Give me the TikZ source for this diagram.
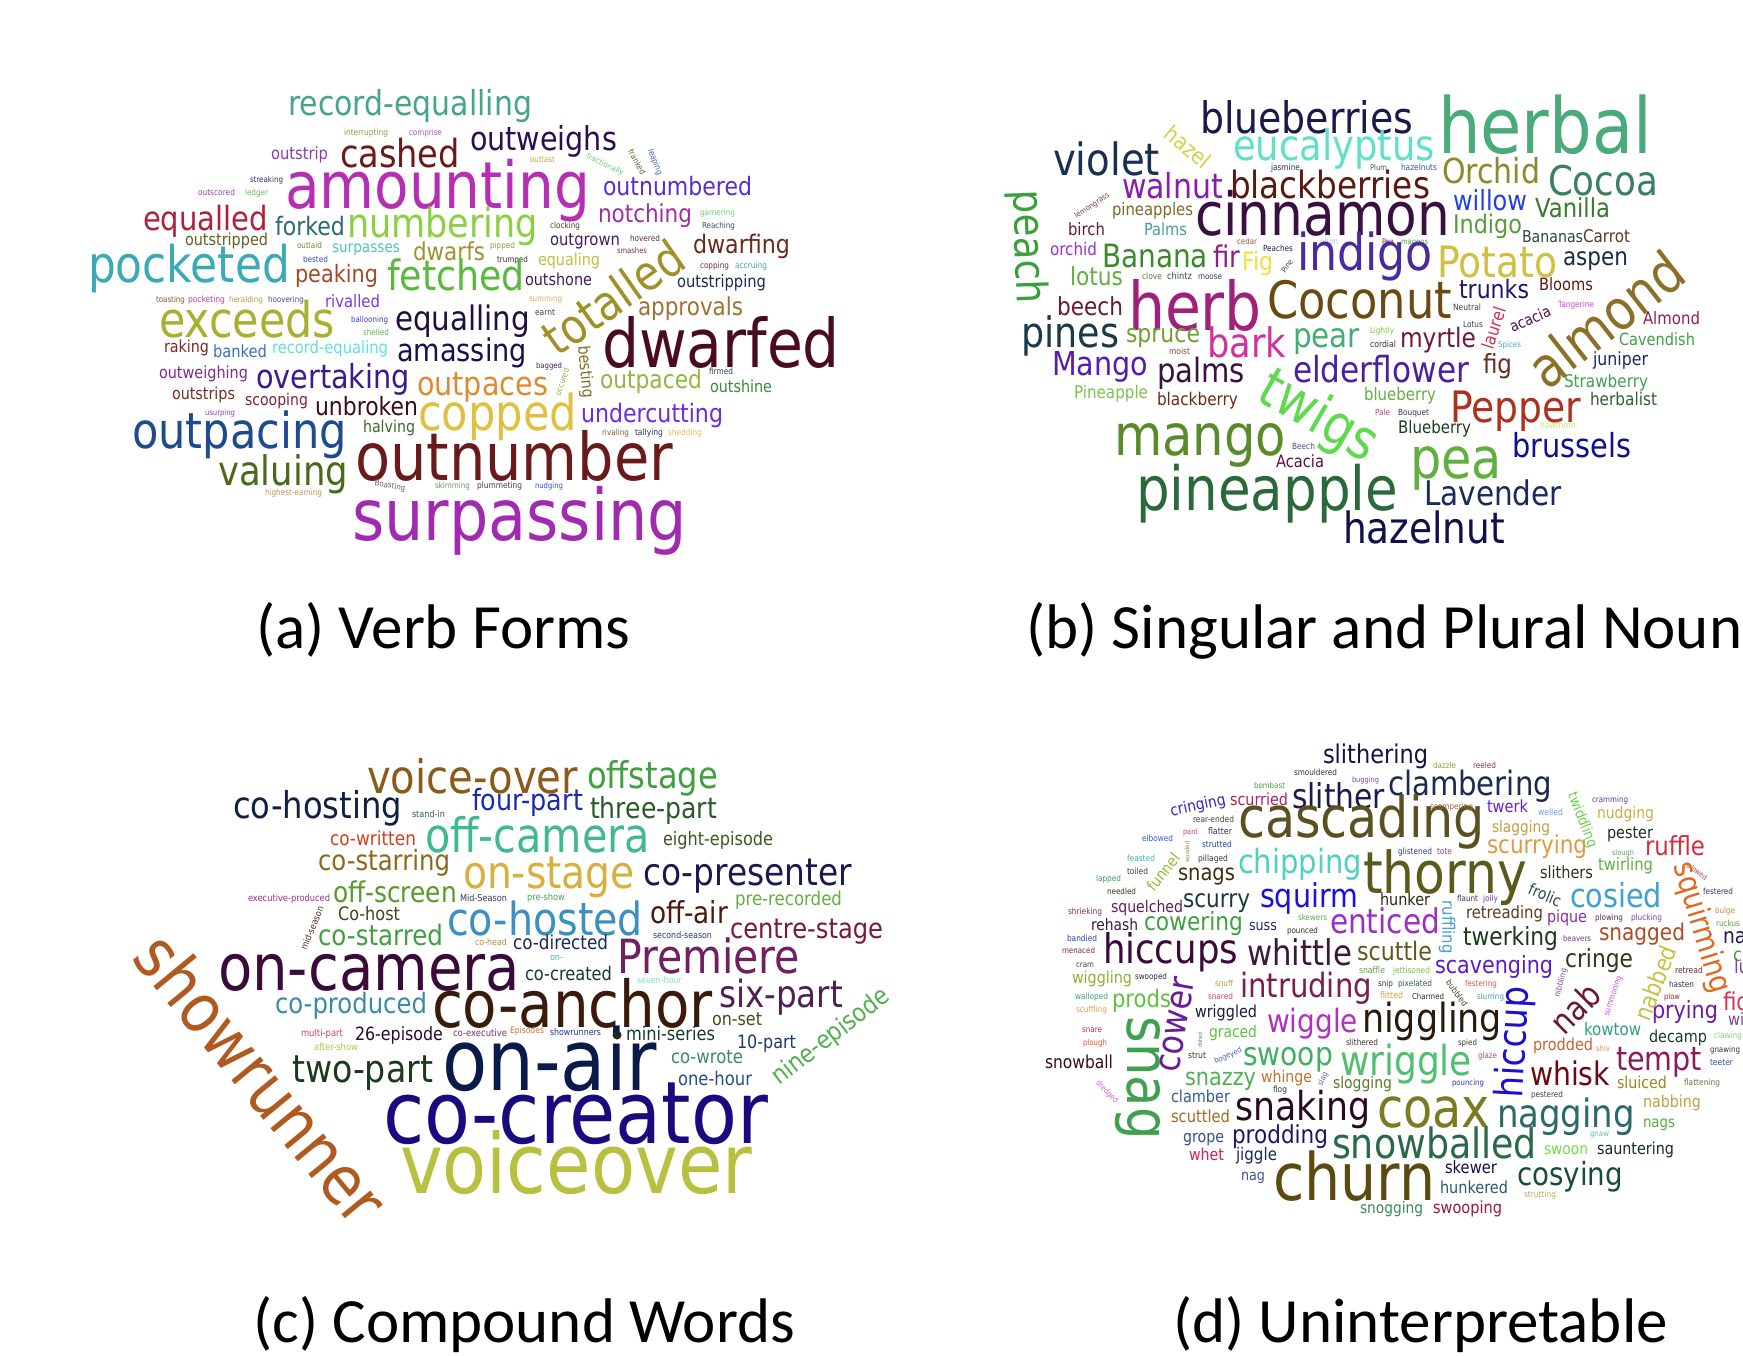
\documentclass[tikz,border=0pt]{standalone}
\usepackage{fontspec}
\usepackage{graphicx}
\newfontfamily\wcfam[FakeStretch=0.87]{DejaVu Sans}
\newfontfamily\capfam{Carlito}
\newcommand\wcf{\fontsize{20}{24}\selectfont\wcfam}
\newlength\wcu \setlength\wcu{0.5pt}
\newcounter{wcn}
\tikzset{wordbox/.style={inner sep=0pt,outer sep=0pt,anchor=base west},
  captionbox/.style={inner sep=0pt,anchor=base west,font=\fontsize{31.5}{36}\selectfont\capfam}}
% horizontal word: xl xr baseline hex text
\newcommand\wdh[5]{\definecolor{wcc}{HTML}{#4}\stepcounter{wcn}%
  \node[wordbox,text=wcc] (w\arabic{wcn}) at (#1,-#3) {\resizebox{\dimexpr#2\wcu-#1\wcu\relax}{!}{\wcf #5}};}
% rotated word: cx cy angle length hex text
\newcommand\wdr[6]{\definecolor{wcc}{HTML}{#5}\stepcounter{wcn}%
  \node[wordbox,anchor=center,rotate=#3,text=wcc] (w\arabic{wcn}) at (#1,-#2) {\resizebox{#4\wcu}{!}{\wcf #6}};}
\begin{document}
\begin{tikzpicture}[x=0.5pt,y=0.5pt]
\path[use as bounding box,fill=white] (0,0) rectangle (1743,-1355);
% ---------------- (a) ----------------
\wdh{288}{532}{115}{44A58A}{record-equalling}
\wdh{344}{388}{135}{8AA04A}{interrupting}
\wdh{409}{442}{135}{B050C0}{comprise}
\wdh{271}{328}{159}{8A3AB9}{outstrip}
\wdh{340}{460}{167}{6A1A1A}{cashed}
\wdh{470}{617}{150}{2A0F50}{outweighs}
\wdh{530}{555}{162}{B0B040}{outlast}
\wdh{250}{283}{182}{303060}{streaking}
\wdh{198}{235}{195}{A040C0}{outscored}
\wdh{245}{268}{195}{60C060}{ledger}
\wdh{285}{590}{208}{B52FB5}{amounting}
\wdh{603}{752}{195}{5A2DD0}{outnumbered}
\wdh{143}{268}{230}{B0203A}{equalled}
\wdh{275}{345}{235}{2A6A70}{forked}
\wdh{347}{538}{237}{8AD040}{numbering}
\wdh{598}{692}{222}{A02EA0}{notching}
\wdh{700}{735}{215}{70D070}{garnering}
\wdh{702}{735}{228}{305060}{Reaching}
\wdh{550}{580}{228}{404020}{clocking}
\wdh{185}{268}{245}{606020}{outstripped}
\wdh{297}{322}{248}{6A8A30}{outlaid}
\wdh{332}{400}{252}{50C8B0}{surpasses}
\wdh{413}{485}{260}{A09030}{dwarfs}
\wdh{490}{515}{248}{80A040}{pipped}
\wdh{550}{620}{245}{402060}{outgrown}
\wdh{630}{660}{241}{603030}{hovered}
\wdh{617}{647}{253}{803040}{smashes}
\wdh{693}{790}{253}{6A2A1A}{dwarfing}
\wdh{303}{328}{262}{3050C0}{bested}
\wdh{497}{528}{262}{303030}{trumped}
\wdh{538}{600}{265}{C0C040}{equaling}
\wdh{700}{729}{268}{703040}{copping}
\wdh{735}{767}{268}{50A0A0}{accruing}
\wdh{88}{290}{282}{3AABB5}{pocketed}
\wdh{295}{378}{282}{A04A2A}{peaking}
\wdh{387}{525}{290}{5AB83A}{fetched}
\wdh{525}{592}{285}{401A60}{outshone}
\wdh{677}{766}{287}{1A2A50}{outstripping}
\wdh{156}{185}{302}{806020}{toasting}
\wdh{188}{225}{302}{C04090}{pocketing}
\wdh{229}{263}{302}{B0A050}{heralding}
\wdh{268}{304}{302}{6040A0}{hoovering}
\wdh{325}{380}{307}{7A3AE0}{rivalled}
\wdh{529}{562}{301}{D0B060}{summing}
\wdh{638}{743}{315}{A07030}{approvals}
\wdh{535}{555}{315}{404040}{earnt}
\wdh{159}{335}{337}{A8B030}{exceeds}
\wdh{351}{388}{322}{4040C0}{ballooning}
\wdh{395}{530}{330}{201040}{equalling}
\wdh{363}{389}{335}{60B060}{shelled}
\wdh{602}{840}{367}{4A0A20}{dwarfed}
\wdh{164}{209}{352}{7A2A2A}{raking}
\wdh{213}{267}{357}{3A70C0}{banked}
\wdh{272}{388}{353}{60E0E0}{record-equaling}
\wdh{397}{527}{361}{1A1050}{amassing}
\wdh{536}{562}{368}{402060}{bagged}
\wdh{709}{733}{374}{304050}{firmed}
\wdh{600}{702}{388}{90B840}{outpaced}
\wdh{710}{772}{392}{3A8A3A}{outshine}
\wdh{159}{248}{378}{802A90}{outweighing}
\wdh{256}{410}{388}{3A1A90}{overtaking}
\wdh{417}{548}{395}{E08A30}{outpaces}
\wdh{172}{235}{399}{7A2A2A}{outstrips}
\wdh{245}{308}{405}{802040}{scooping}
\wdh{315}{418}{415}{3A0A1A}{unbroken}
\wdh{205}{235}{415}{8040A0}{usurping}
\wdh{418}{577}{430}{E0C040}{copped}
\wdh{581}{723}{422}{6A2AE8}{undercutting}
\wdh{363}{415}{432}{3A6A2A}{halving}
\wdh{602}{629}{435}{806030}{rivaling}
\wdh{635}{663}{435}{303050}{tallying}
\wdh{668}{702}{435}{E0C050}{shedding}
\wdh{132}{347}{448}{1E4A90}{outpacing}
\wdh{355}{673}{480}{6A1A1A}{outnumber}
\wdh{218}{348}{485}{4A6A1A}{valuing}
\wdh{435}{470}{488}{60A060}{skimming}
\wdh{477}{522}{488}{404050}{plummeting}
\wdh{535}{563}{488}{3050D0}{nudging}
\wdh{265}{322}{495}{C09050}{highest-earning}
\wdh{352}{687}{540}{A02AB0}{surpassing}
\wdr{605}{165}{-25}{40}{70D070}{fractionally}
\wdr{637}{162}{-60}{27}{606030}{franked}
\wdr{655}{162}{-70}{27}{4060A0}{leaping}
\wdr{613}{297}{35}{160}{A09028}{totalled}
\wdr{585}{372}{-85}{53}{807020}{besting}
\wdr{562}{382}{71}{28}{B0A040}{occured}
\wdr{390}{486}{-10}{31}{606070}{Boasting}
% ---------------- (b) ----------------
\wdh{1200}{1413}{133}{1A1A4A}{blueberries}
\wdh{1438}{1652}{153}{4AAA7A}{herbal}
\wdh{1233}{1435}{160}{60E0C8}{eucalyptus}
\wdh{1053}{1160}{175}{1A3050}{violet}
\wdh{1271}{1300}{170}{303050}{jasmine}
\wdh{1370}{1387}{170}{306040}{Plum}
\wdh{1401}{1437}{170}{3050A0}{hazelnuts}
\wdh{1442}{1540}{183}{8A8A2A}{Orchid}
\wdh{1548}{1658}{195}{3A8060}{Cocoa}
\wdh{1122}{1223}{198}{8A1AB0}{walnut}
\wdh{1230}{1430}{198}{5A1A10}{blackberries}
\wdh{1453}{1527}{210}{2040E0}{willow}
\wdh{1535}{1610}{217}{3A7A2A}{Vanilla}
\wdh{1112}{1193}{215}{7A6A2A}{pineapples}
\wdh{1195}{1450}{235}{3A1040}{cinnamon}
\wdh{1068}{1105}{235}{602030}{birch}
\wdh{1144}{1187}{235}{40A0A0}{Palms}
\wdh{1453}{1522}{233}{5A9A3A}{Indigo}
\wdh{1522}{1583}{242}{304040}{Bananas}
\wdh{1583}{1630}{242}{5A3A20}{Carrot}
\wdh{1382}{1394}{244}{703050}{Pea}
\wdh{1401}{1428}{244}{40A060}{mangos}
\wdh{1237}{1257}{244}{A05040}{cedar}
\wdh{1320}{1338}{244}{A0C0F0}{plum}
\wdh{1050}{1097}{255}{A030C0}{orchid}
\wdh{1102}{1208}{267}{3A8A2A}{Banana}
\wdh{1213}{1240}{267}{902080}{fir}
\wdh{1242}{1273}{270}{F0E040}{Fig}
\wdh{1263}{1293}{251}{202050}{Peaches}
\wdh{1297}{1433}{270}{4A2AA0}{indigo}
\wdh{1437}{1557}{277}{D0C040}{Potato}
\wdh{1563}{1628}{265}{1A2A40}{aspen}
\wdh{1070}{1123}{285}{60B040}{lotus}
\wdh{1142}{1162}{279}{607040}{clove}
\wdh{1167}{1192}{279}{305040}{chintz}
\wdh{1198}{1222}{279}{304060}{moose}
\wdh{1128}{1262}{330}{A0207A}{herb}
\wdh{1267}{1452}{318}{6A4A10}{Coconut}
\wdh{1057}{1123}{315}{6A1A2A}{beech}
\wdh{1459}{1529}{298}{1A1A6A}{trunks}
\wdh{1539}{1593}{290}{5A1A10}{Blooms}
\wdh{1453}{1481}{310}{404050}{Neutral}
\wdh{1558}{1594}{307}{E040E0}{Tangerine}
\wdh{1643}{1700}{324}{902050}{Almond}
\wdh{1463}{1483}{327}{304050}{Lotus}
\wdh{1370}{1394}{333}{80C040}{Lightly}
\wdh{1021}{1119}{347}{1A3A4A}{pines}
\wdh{1126}{1200}{342}{70A030}{spruce}
\wdh{1207}{1286}{357}{D030A0}{bark}
\wdh{1293}{1360}{347}{40B070}{pear}
\wdh{1370}{1396}{347}{303040}{cordial}
\wdh{1400}{1476}{347}{6A1A40}{myrtle}
\wdh{1498}{1521}{347}{60A0D0}{Spices}
\wdh{1619}{1695}{345}{40A040}{Cavendish}
\wdh{1169}{1190}{354}{904040}{moist}
\wdh{1052}{1148}{375}{5A1AB0}{Mango}
\wdh{1157}{1245}{382}{3A1040}{palms}
\wdh{1293}{1469}{382}{4A20A0}{elderflower}
\wdh{1483}{1512}{373}{6A2A20}{fig}
\wdh{1593}{1648}{365}{1A2A60}{juniper}
\wdh{1564}{1648}{387}{40A050}{Strawberry}
\wdh{1074}{1148}{398}{80C050}{Pineapple}
\wdh{1157}{1238}{405}{6A2A10}{blackberry}
\wdh{1364}{1436}{400}{60B040}{blueberry}
\wdh{1590}{1657}{405}{306030}{herbalist}
\wdh{1450}{1581}{422}{B03020}{Pepper}
\wdh{1375}{1390}{415}{C04080}{Pale}
\wdh{1398}{1429}{415}{403040}{Bouquet}
\wdh{1398}{1471}{433}{203A20}{Blueberry}
\wdh{1540}{1576}{428}{D0E060}{hawthorn}
\wdh{1114}{1286}{455}{5A8A2A}{mango}
\wdh{1292}{1315}{449}{604080}{Beech}
\wdh{1512}{1631}{457}{10108A}{brussels}
\wdh{1276}{1324}{467}{601040}{Acacia}
\wdh{1410}{1502}{478}{60B040}{pea}
\wdh{1136}{1398}{510}{2A6A3A}{pineapple}
\wdh{1424}{1562}{505}{1A2A5A}{Lavender}
\wdh{1343}{1505}{543}{10104A}{hazelnut}
\wdr{1188}{147}{-40}{52}{D8D040}{hazel}
\wdr{1092}{206}{34}{40}{804040}{lemongrass}
\wdr{1287}{266}{55}{14}{404060}{Pine}
\wdr{1027}{247}{-88}{113}{3AA03A}{peach}
\wdr{1606}{319}{38}{181}{8A7028}{almond}
\wdr{1494}{328}{72}{43}{D03050}{laurel}
\wdr{1530}{319}{24}{43}{501050}{acacia}
\wdr{1318}{418}{-30}{128}{60D850}{twigs}
% ---------------- (c) ----------------
\wdh{367}{578}{793}{8A5A1A}{voice-over}
\wdh{587}{718}{788}{40A040}{offstage}
\wdh{233}{402}{818}{102040}{co-hosting}
\wdh{412}{445}{817}{306040}{stand-in}
\wdh{472}{583}{810}{1A2AB0}{four-part}
\wdh{590}{717}{818}{2A5A2A}{three-part}
\wdh{330}{416}{845}{D04020}{co-written}
\wdh{425}{650}{852}{40B890}{off-camera}
\wdh{663}{773}{845}{3A5A20}{eight-episode}
\wdh{318}{450}{870}{8A6A1A}{co-starring}
\wdh{463}{635}{888}{D8B040}{on-stage}
\wdh{643}{852}{885}{1A1A50}{co-presenter}
\wdh{248}{330}{901}{A03080}{executive-produced}
\wdh{333}{457}{902}{5A9A2A}{off-screen}
\wdh{460}{507}{901}{403060}{Mid-Season}
\wdh{527}{565}{900}{50A050}{pre-show}
\wdh{735}{842}{905}{60B040}{pre-recorded}
\wdh{338}{400}{920}{3A4A1A}{Co-host}
\wdh{447}{643}{935}{3A90C0}{co-hosted}
\wdh{650}{728}{923}{4A1A0A}{off-air}
\wdh{730}{883}{938}{7A1A3A}{centre-stage}
\wdh{653}{712}{938}{2A3A80}{second-season}
\wdh{318}{443}{945}{40A040}{co-starred}
\wdh{475}{507}{945}{B09040}{co-head}
\wdh{513}{608}{949}{1A2A50}{co-directed}
\wdh{550}{563}{960}{50B0B0}{on-}
\wdh{617}{800}{973}{702060}{Premiere}
\wdh{218}{520}{990}{3A0A3A}{on-camera}
\wdh{525}{612}{980}{1A3A2A}{co-created}
\wdh{637}{682}{983}{80E0D0}{seven-hour}
\wdh{275}{427}{1013}{3A8AA8}{co-produced}
\wdh{432}{713}{1027}{3A1A0A}{co-anchor}
\wdh{719}{843}{1007}{502050}{six-part}
\wdh{712}{762}{1025}{4A4A1A}{on-set}
\wdh{301}{343}{1036}{D04070}{multi-part}
\wdh{355}{443}{1040}{2A0A30}{26-episode}
\wdh{453}{507}{1036}{803060}{co-executive}
\wdh{510}{544}{1033}{D07040}{Episodes}
\wdh{550}{601}{1035}{2030A0}{showrunners}
\wdh{626}{715}{1040}{1A3A2A}{mini-series}
\wdh{314}{358}{1050}{A0D040}{after-show}
\wdh{737}{796}{1048}{1A3A6A}{10-part}
\wdh{671}{743}{1063}{3A8A6A}{co-wrote}
\wdh{292}{433}{1082}{1A3A1A}{two-part}
\wdh{442}{657}{1090}{0A1A4A}{on-air}
\wdh{678}{752}{1085}{2A4A8A}{one-hour}
\wdh{383}{768}{1143}{1A0A80}{co-creator}
\wdh{400}{752}{1193}{B8C040}{voiceover}
\wdr{262}{1078}{-50.5}{351}{B05A20}{showrunner}
\wdr{312}{928}{67.5}{46}{503020}{mid-season}
\wdr{831}{1037}{37.7}{142}{50B050}{nine-episode}
\fill[black!85] (617,-1035) circle (4.5);
% ---------------- (d) ----------------
\wdh{1323}{1428}{763}{1A1040}{slithering}
\wdh{1294}{1337}{775}{303040}{smouldered}
\wdh{1433}{1456}{768}{90A040}{dazzle}
\wdh{1473}{1496}{768}{804040}{reeled}
\wdh{1254}{1285}{788}{40A040}{bombast}
\wdh{1352}{1379}{782}{8040C0}{bugging}
\wdh{1230}{1288}{805}{B02060}{scurried}
\wdh{1292}{1385}{808}{1A1A50}{slither}
\wdh{1388}{1552}{795}{1A2A50}{clambering}
\wdh{1193}{1234}{822}{404040}{rear-ended}
\wdh{1238}{1485}{837}{5A5020}{cascading}
\wdh{1430}{1473}{809}{A06040}{scampering}
\wdh{1487}{1528}{812}{6A1AD0}{twerk}
\wdh{1538}{1563}{815}{60A0E0}{welled}
\wdh{1592}{1628}{802}{6A3A90}{cramming}
\wdh{1597}{1654}{818}{C8B040}{nudging}
\wdh{1492}{1550}{832}{C0A040}{slagging}
\wdh{1607}{1653}{838}{203020}{pester}
\wdh{1183}{1198}{834}{E04070}{pant}
\wdh{1208}{1232}{834}{403060}{flatter}
\wdh{1142}{1173}{841}{3060C0}{elbowed}
\wdh{1202}{1232}{847}{3040A0}{strutted}
\wdh{1238}{1362}{873}{50D0C0}{chipping}
\wdh{1363}{1527}{893}{5A5A1A}{thorny}
\wdh{1487}{1587}{853}{E09A40}{scurrying}
\wdh{1645}{1705}{855}{D03040}{ruffle}
\wdh{1398}{1432}{854}{304080}{glistened}
\wdh{1437}{1452}{854}{8040A0}{tote}
\wdh{1612}{1634}{855}{60A060}{slough}
\wdh{1127}{1155}{861}{40B0B0}{feasted}
\wdh{1198}{1228}{861}{403040}{pillaged}
\wdh{1127}{1148}{874}{404030}{toiled}
\wdh{1178}{1235}{880}{3A3010}{snags}
\wdh{1096}{1121}{881}{40A060}{lapped}
\wdh{1540}{1593}{878}{303020}{slithers}
\wdh{1598}{1653}{870}{60B040}{twirling}
\wdh{1703}{1733}{894}{403050}{festered}
\wdh{1107}{1136}{894}{403020}{needled}
\wdh{1570}{1662}{907}{40A0D0}{cosied}
\wdh{1380}{1430}{905}{2A2A1A}{hunker}
\wdh{1457}{1478}{901}{403040}{flaunt}
\wdh{1483}{1498}{901}{8040A0}{jolly}
\wdh{1183}{1250}{907}{1A3A3A}{scurry}
\wdh{1260}{1358}{907}{1A10E0}{squirm}
\wdh{1068}{1102}{914}{803050}{shrieking}
\wdh{1111}{1183}{912}{602060}{squelched}
\wdh{1715}{1735}{913}{C09040}{bulge}
\wdh{1466}{1543}{918}{603A20}{retreading}
\wdh{1547}{1587}{922}{8030A0}{pique}
\wdh{1595}{1623}{920}{403050}{plowing}
\wdh{1631}{1662}{920}{8040B0}{plucking}
\wdh{1716}{1740}{926}{60A040}{ruckus}
\wdh{1298}{1327}{920}{50B050}{skewers}
\wdh{1091}{1138}{930}{3A1A3A}{rehash}
\wdh{1144}{1243}{930}{40A040}{cowering}
\wdh{1249}{1277}{930}{1A2A70}{suss}
\wdh{1287}{1318}{933}{303020}{pounced}
\wdh{1330}{1440}{933}{9A30C0}{enticed}
\wdh{1599}{1685}{940}{B04A20}{snagged}
\wdh{1067}{1097}{941}{3040B0}{bandied}
\wdh{1463}{1558}{945}{1A3A1A}{twerking}
\wdh{1563}{1591}{941}{6A3A90}{beavers}
\wdh{1723}{1758}{943}{1A1A50}{nag}
\wdh{1733}{1752}{961}{40A040}{co}
\wdh{1734}{1754}{973}{8040B0}{lul}
\wdh{1062}{1095}{953}{803040}{menaced}
\wdh{1103}{1238}{963}{3A0A3A}{hiccups}
\wdh{1247}{1352}{965}{3A1A3A}{whittle}
\wdh{1357}{1432}{960}{5A5A1A}{scuttle}
\wdh{1565}{1633}{967}{2A3A1A}{cringe}
\wdh{1076}{1094}{967}{404040}{cram}
\wdh{1359}{1385}{973}{60A040}{snaffle}
\wdh{1393}{1430}{973}{80C040}{jettisoned}
\wdh{1072}{1132}{983}{90B030}{wiggling}
\wdh{1135}{1167}{979}{203040}{swooped}
\wdh{1215}{1233}{986}{B0A040}{snuff}
\wdh{1378}{1393}{986}{403030}{snip}
\wdh{1240}{1372}{997}{7A2050}{intruding}
\wdh{1435}{1553}{973}{5A1AD0}{scavenging}
\wdh{1075}{1108}{999}{40A070}{walloped}
\wdh{1112}{1171}{1007}{60C040}{prods}
\wdh{1208}{1233}{999}{E04070}{snared}
\wdh{1380}{1403}{998}{D0A040}{flitted}
\wdh{1398}{1432}{986}{306040}{pixelated}
\wdh{1465}{1497}{986}{D06040}{festering}
\wdh{1412}{1444}{999}{203040}{Charmed}
\wdh{1477}{1504}{999}{40A0A0}{slurring}
\wdh{1675}{1703}{973}{6A2A3A}{retread}
\wdh{1669}{1694}{987}{303040}{hasten}
\wdh{1664}{1680}{999}{A02040}{plow}
\wdh{1723}{1750}{1010}{E03050}{fid}
\wdh{1728}{1762}{1025}{8040A0}{wink}
\wdh{1714}{1742}{1038}{80D080}{clawing}
\wdh{1710}{1740}{1052}{303040}{gnawing}
\wdh{1710}{1733}{1065}{3050A0}{teeter}
\wdh{1684}{1720}{1085}{707040}{flattening}
\wdh{1652}{1718}{1018}{6A1AB0}{prying}
\wdh{1649}{1707}{1042}{1A3A2A}{decamp}
\wdh{1584}{1641}{1035}{30A080}{kowtow}
\wdh{1616}{1702}{1070}{8A1A5A}{tempt}
\wdh{1617}{1667}{1088}{9A8A20}{sluiced}
\wdh{1533}{1593}{1050}{D06030}{prodded}
\wdh{1596}{1610}{1051}{D09060}{shiv}
\wdh{1530}{1610}{1085}{6A0A10}{whisk}
\wdh{1531}{1563}{1097}{404040}{pestered}
\wdh{1362}{1502}{1032}{2A1A0A}{niggling}
\wdh{1458}{1477}{1045}{404030}{spied}
\wdh{1478}{1497}{1058}{C04080}{glaze}
\wdh{1340}{1472}{1075}{50C070}{wriggle}
\wdh{1452}{1484}{1085}{3030B0}{pouncing}
\wdh{1195}{1257}{1017}{1A1A3A}{wriggled}
\wdh{1267}{1358}{1032}{B030C0}{wiggle}
\wdh{1346}{1378}{1045}{303030}{slithered}
\wdh{1209}{1257}{1037}{60C040}{graced}
\wdh{1082}{1102}{1032}{C03050}{snare}
\wdh{1083}{1107}{1045}{E05030}{plough}
\wdh{1076}{1107}{1012}{E0A040}{scuffling}
\wdh{1188}{1206}{1058}{403020}{strut}
\wdh{1243}{1333}{1065}{40B060}{swoop}
\wdh{1045}{1113}{1068}{3A0A1A}{snowball}
\wdh{1185}{1256}{1085}{50B050}{snazzy}
\wdh{1261}{1312}{1082}{C07030}{whinge}
\wdh{1273}{1287}{1092}{303050}{flog}
\wdh{1333}{1392}{1088}{5A7A2A}{slogging}
\wdh{1171}{1230}{1102}{3A5A8A}{clamber}
\wdh{1235}{1370}{1120}{2A0A20}{snaking}
\wdh{1377}{1490}{1127}{7A7A20}{coax}
\wdh{1497}{1635}{1127}{2A6A6A}{nagging}
\wdh{1643}{1701}{1107}{C0A040}{nabbing}
\wdh{1643}{1675}{1127}{50B040}{nags}
\wdh{1171}{1230}{1122}{A06A20}{scuttled}
\wdh{1183}{1224}{1142}{3A4A8A}{grope}
\wdh{1232}{1328}{1143}{1A1A60}{prodding}
\wdh{1332}{1537}{1158}{2A6A4A}{snowballed}
\wdh{1590}{1609}{1136}{60C0A0}{gnaw}
\wdh{1544}{1588}{1154}{70E040}{swoon}
\wdh{1597}{1674}{1154}{1A2A2A}{sauntering}
\wdh{1189}{1224}{1160}{D02060}{whet}
\wdh{1236}{1277}{1160}{1A2A50}{jiggle}
\wdh{1445}{1497}{1173}{10104A}{skewer}
\wdh{1517}{1623}{1185}{1A4A3A}{cosying}
\wdh{1241}{1265}{1180}{3A5A8A}{nag}
\wdh{1273}{1435}{1200}{5A4A10}{churn}
\wdh{1440}{1508}{1193}{2A5A6A}{hunkered}
\wdh{1524}{1556}{1197}{B0B050}{strutting}
\wdh{1360}{1423}{1213}{3A8A5A}{snogging}
\wdh{1433}{1502}{1213}{9A1A3A}{swooping}
\wdr{1198}{806}{12}{56}{2A2AC0}{cringing}
\wdr{1582}{820}{-68.5}{58}{70D050}{twiddling}
\wdr{1187}{852}{90}{21}{A09040}{wooded}
\wdr{1163}{872}{52}{43}{90C030}{funnel}
\wdr{1697}{872}{-37}{23}{A05040}{plowed}
\wdr{1701}{928}{-73}{135}{E06A20}{squirming}
\wdr{1545}{895}{-22.5}{34}{2A4A4A}{frolic}
\wdr{1447}{927}{-90}{53}{40A0D0}{ruffling}
\wdr{1457}{993}{-54}{30}{404020}{bubbled}
\wdr{1561}{983}{76}{29}{8050A0}{nibbling}
\wdr{1613}{996}{71.5}{42}{D050E0}{summoning}
\wdr{1655}{983}{69}{78}{C8C040}{nabbed}
\wdr{1575}{1008}{45}{55}{6A1A2A}{nab}
\wdr{1515}{1042}{87}{111}{1A10D0}{hiccup}
\wdr{1200}{1040}{90}{15}{6060A0}{dished}
\wdr{1177}{1025}{80}{95}{6A1A9A}{cower}
\wdr{1138}{1078}{-90}{123}{40A050}{snag}
\wdr{1228}{1056}{24}{29}{4060C0}{bogeyed}
\wdr{1107}{1092}{-45}{28}{D060D0}{dredged}
\wdr{1323}{1079}{65}{14}{6060C0}{slag}
% ---------------- captions ----------------
\node[captionbox] (capa) at (256,-648) {(a) Verb Forms};
\node[captionbox] (capb) at (1026,-648) {(b) Singular and Plural Nouns};
\node[captionbox] (capc) at (253,-1342) {(c) Compound Words};
\node[captionbox] (capd) at (1173,-1342) {(d) Uninterpretable};
\end{tikzpicture}
\end{document}
